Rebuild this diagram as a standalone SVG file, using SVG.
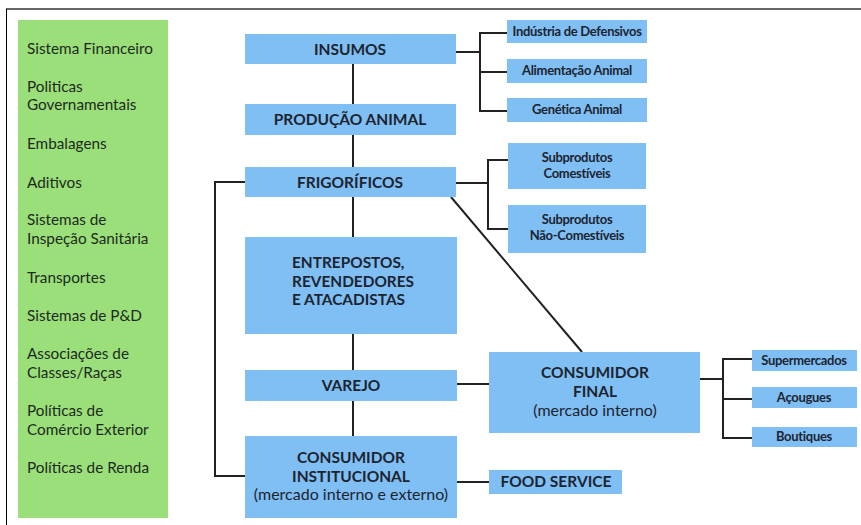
<svg xmlns="http://www.w3.org/2000/svg" width="861" height="525" viewBox="0 0 861 525">
<style>
.bg{fill:#ffffff}
.frame{stroke:#000;stroke-width:1;fill:none}
.top{stroke:#666;stroke-width:2;fill:none}
.green{fill:#9ADF79}
.box{fill:#80BFF4}
.gt{font-family:Lato,"Liberation Sans",sans-serif;font-size:15.3px;fill:#1e2a1e}
.bt{font-family:Lato,"Liberation Sans",sans-serif;font-size:15.5px;font-weight:bold;fill:#1c2430;text-anchor:middle}
.bl{font-family:Lato,"Liberation Sans",sans-serif;font-size:15.4px;font-weight:bold;fill:#1c2430}
.st{font-family:Lato,"Liberation Sans",sans-serif;font-size:13px;font-weight:bold;fill:#1c2430;text-anchor:middle;letter-spacing:-0.3px}
.pt{font-family:Lato,"Liberation Sans",sans-serif;font-size:16px;fill:#1c2430;text-anchor:middle}
.ln{stroke:#222;stroke-width:2;fill:none}
</style>
<rect class="bg" x="0" y="0" width="861" height="525"/>
<line class="top" x1="6" y1="9" x2="861" y2="9"/>
<line class="frame" x1="6.5" y1="9" x2="6.5" y2="525"/>

<g id="fatores">
<rect class="green" x="18" y="20" width="150" height="498"/>
<text class="gt" x="27" y="54">Sistema Financeiro</text>
<text class="gt" x="27" y="92">Politicas</text>
<text class="gt" x="27" y="110">Governamentais</text>
<text class="gt" x="27" y="149">Embalagens</text>
<text class="gt" x="27" y="188">Aditivos</text>
<text class="gt" x="27" y="225">Sistemas de</text>
<text class="gt" x="27" y="244">Inspeção Sanitária</text>
<text class="gt" x="27" y="283">Transportes</text>
<text class="gt" x="27" y="321">Sistemas de P&amp;D</text>
<text class="gt" x="27" y="359">Associações de</text>
<text class="gt" x="27" y="378">Classes/Raças</text>
<text class="gt" x="27" y="416">Políticas de</text>
<text class="gt" x="27" y="435">Comércio Exterior</text>
<text class="gt" x="27" y="473">Políticas de Renda</text>
</g>

<g id="connectors">
<polyline class="ln" points="353,64 353,436"/>
<polyline class="ln" points="245,182 215,182 215,476 245,476"/>
<polyline class="ln" points="456,52 480,52"/>
<polyline class="ln" points="507,33 480,33 480,111 507,111"/>
<polyline class="ln" points="480,72 507,72"/>
<polyline class="ln" points="456,183 488,183"/>
<polyline class="ln" points="508,160 488,160 488,229 508,229"/>
<line class="ln" x1="451" y1="197" x2="582" y2="352"/>
<line class="ln" x1="457" y1="384" x2="489" y2="384"/>
<line class="ln" x1="457" y1="482" x2="489" y2="482"/>
<polyline class="ln" points="700,379 723,379"/>
<polyline class="ln" points="752,359 723,359 723,438 752,438"/>
<polyline class="ln" points="723,399 752,399"/>
</g>

<g id="insumos">
<rect class="box" x="245" y="34" width="211" height="30"/>
<text class="bt" x="350" y="55">INSUMOS</text>
</g>
<g id="producao">
<rect class="box" x="245" y="104" width="211" height="31"/>
<text class="bt" x="350" y="125">PRODUÇÃO ANIMAL</text>
</g>
<g id="frigorificos">
<rect class="box" x="245" y="167" width="211" height="30"/>
<text class="bt" x="350" y="188">FRIGORÍFICOS</text>
</g>
<g id="entrepostos">
<rect class="box" x="245" y="237" width="212" height="97"/>
<text class="bl" x="292" y="268">ENTREPOSTOS,</text>
<text class="bl" x="292" y="287">REVENDEDORES</text>
<text class="bl" x="292" y="305">E ATACADISTAS</text>
</g>
<g id="varejo">
<rect class="box" x="245" y="370" width="212" height="31"/>
<text class="bt" x="351" y="391">VAREJO</text>
</g>
<g id="institucional">
<rect class="box" x="245" y="436" width="212" height="82"/>
<text class="bt" x="351" y="463">CONSUMIDOR</text>
<text class="bt" x="351" y="482">INSTITUCIONAL</text>
<text class="pt" x="351" y="500">(mercado interno e externo)</text>
</g>
<g id="defensivos">
<rect class="box" x="507" y="20" width="140" height="23"/>
<text class="st" x="577" y="36">Indústria de Defensivos</text>
</g>
<g id="alimentacao">
<rect class="box" x="507" y="59" width="140" height="24"/>
<text class="st" x="577" y="75">Alimentação Animal</text>
</g>
<g id="genetica">
<rect class="box" x="507" y="98" width="140" height="24"/>
<text class="st" x="577" y="114">Genética Animal</text>
</g>
<g id="comestiveis">
<rect class="box" x="508" y="143" width="138" height="46"/>
<text class="st" x="577" y="162">Subprodutos</text>
<text class="st" x="577" y="178">Comestíveis</text>
</g>
<g id="naocomestiveis">
<rect class="box" x="508" y="205" width="138" height="48"/>
<text class="st" x="577" y="224">Subprodutos</text>
<text class="st" x="577" y="240">Não-Comestíveis</text>
</g>
<g id="final">
<rect class="box" x="489" y="352" width="211" height="81"/>
<text class="bt" x="595" y="378">CONSUMIDOR</text>
<text class="bt" x="595" y="397">FINAL</text>
<text class="pt" x="595" y="416">(mercado interno)</text>
</g>
<g id="foodservice">
<rect class="box" x="489" y="470" width="133" height="24"/>
<text class="bt" x="556" y="487">FOOD SERVICE</text>
</g>
<g id="supermercados">
<rect class="box" x="752" y="350" width="105" height="21"/>
<text class="st" x="804" y="365">Supermercados</text>
</g>
<g id="acougues">
<rect class="box" x="752" y="387" width="105" height="21"/>
<text class="st" x="804" y="402">Açougues</text>
</g>
<g id="boutiques">
<rect class="box" x="752" y="427" width="105" height="20"/>
<text class="st" x="804" y="441">Boutiques</text>
</g>
</svg>
